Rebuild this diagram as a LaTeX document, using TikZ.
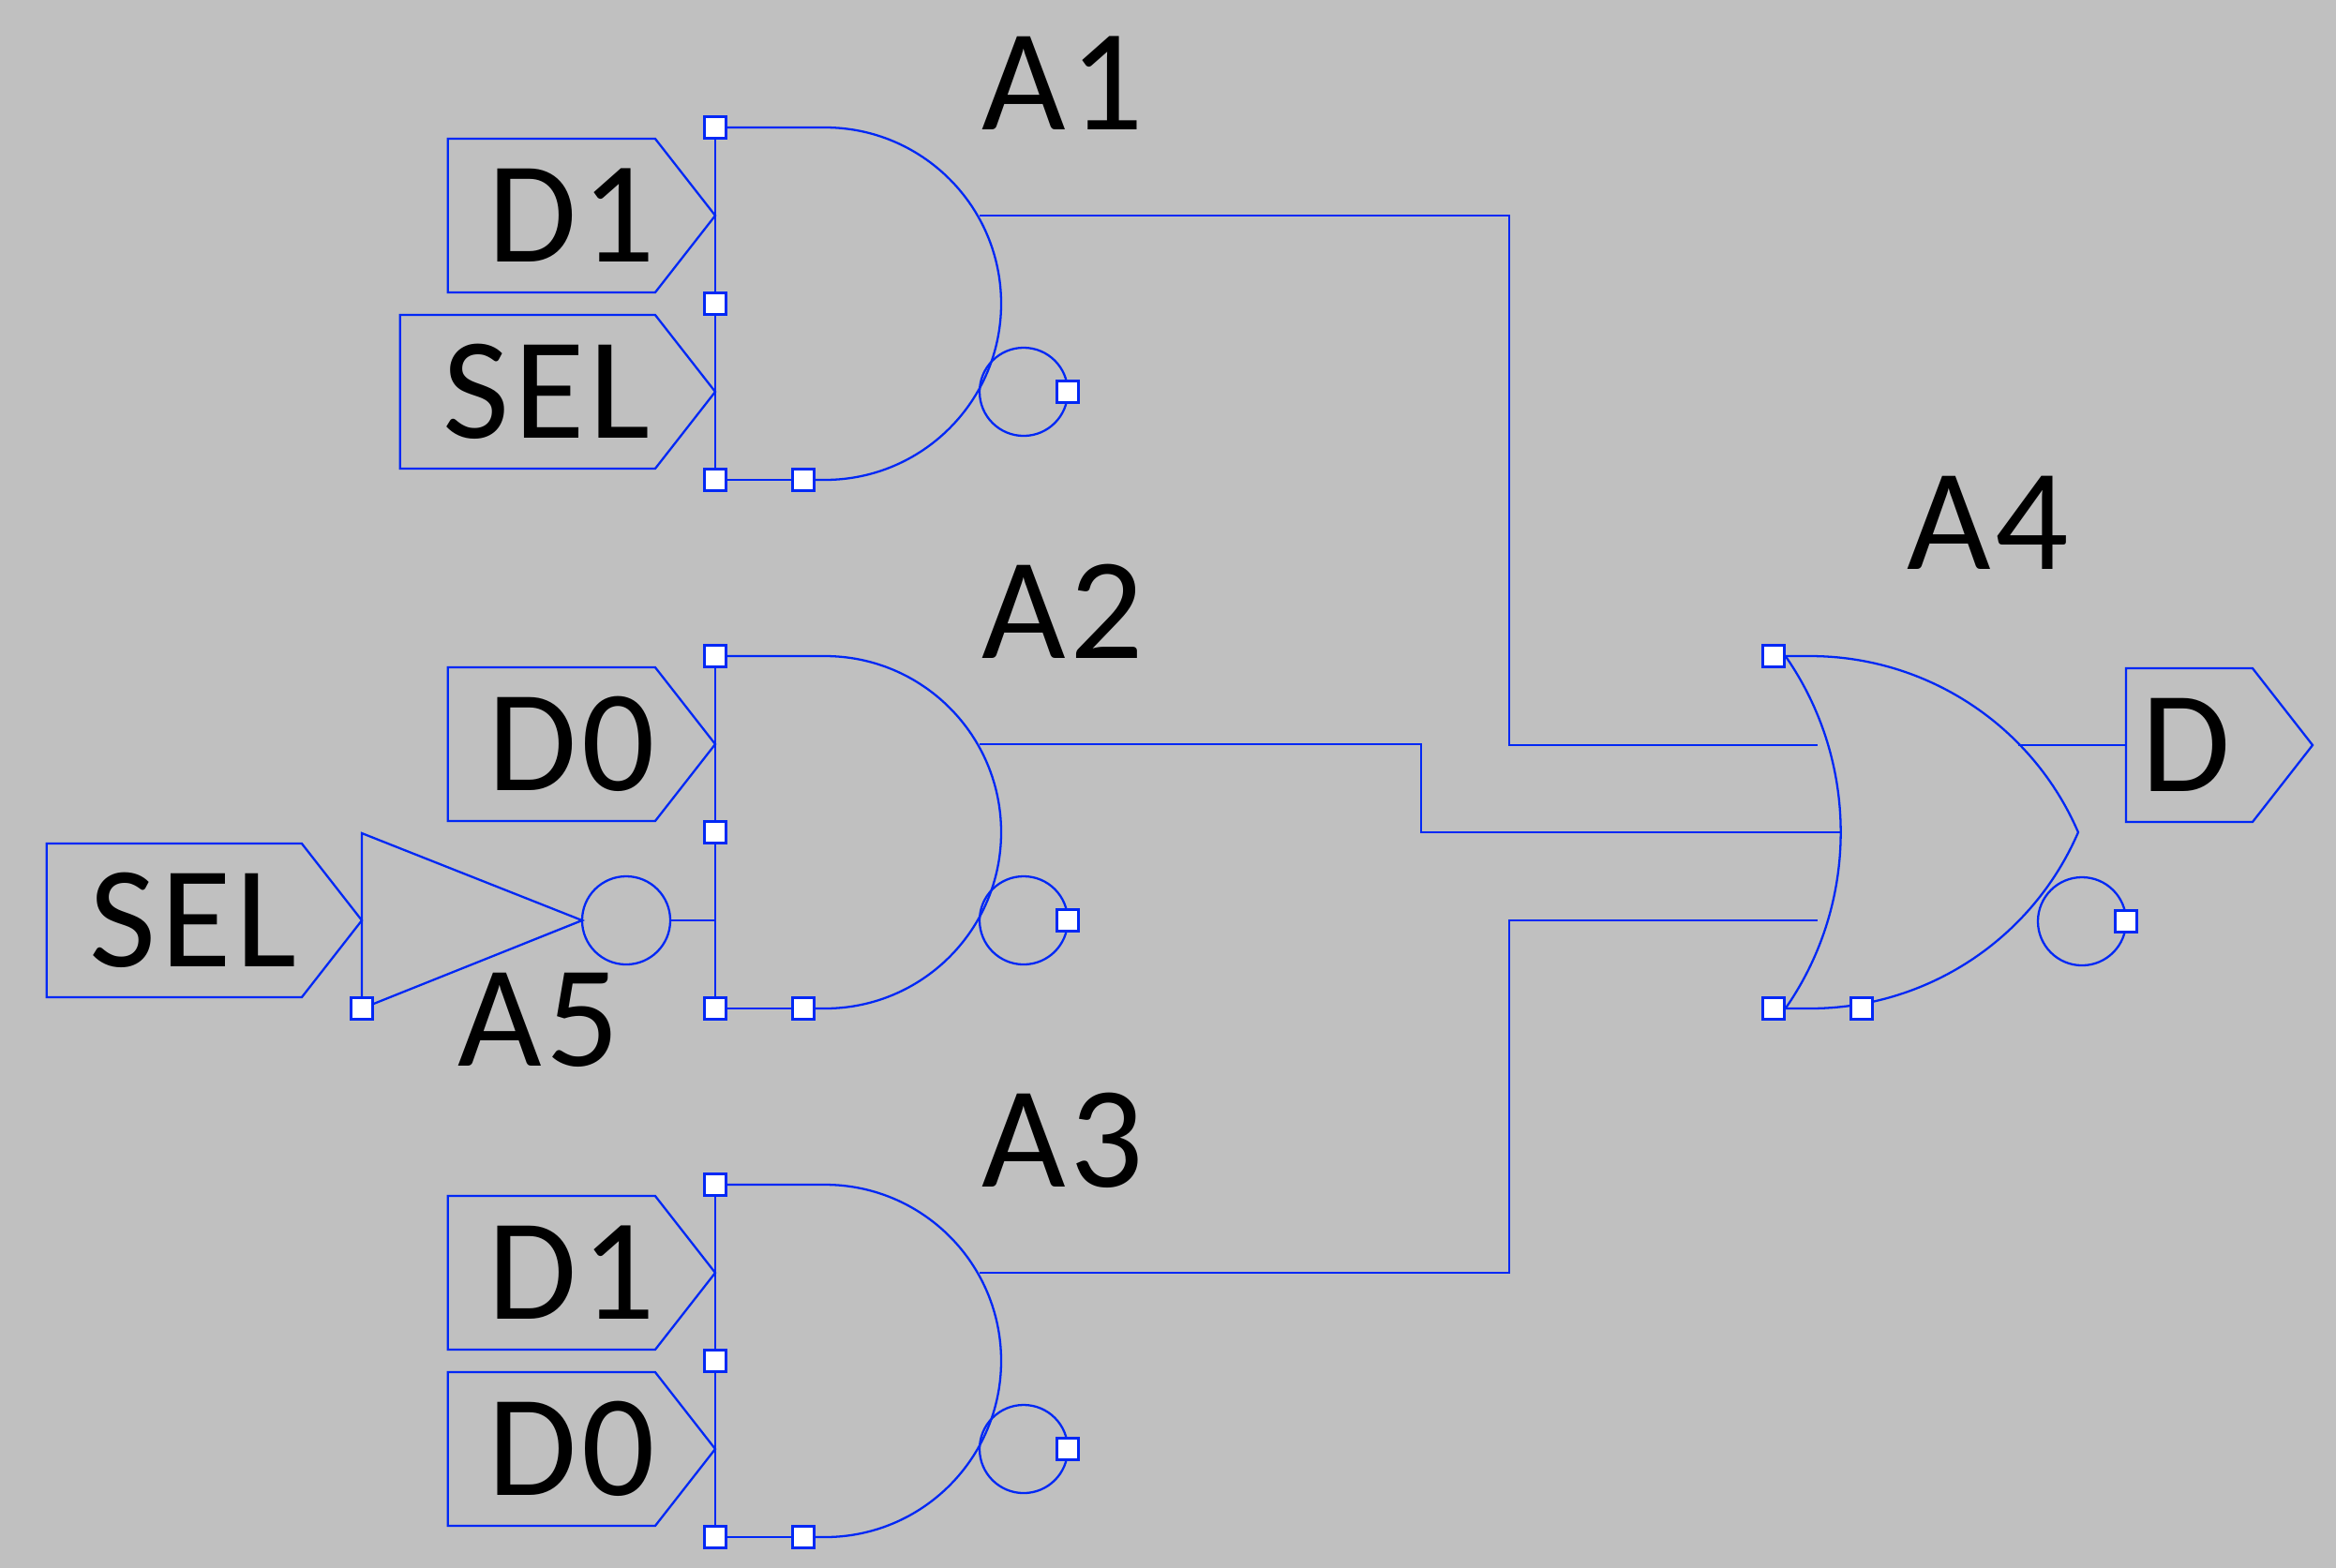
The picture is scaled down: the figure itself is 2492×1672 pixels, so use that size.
\documentclass[tikz,border=0pt]{standalone}
\usepackage{fontspec}
\setmainfont{Carlito}[LetterSpace=3]
\usetikzlibrary{shapes.symbols}
\definecolor{netblue}{RGB}{0,40,245}
\definecolor{sheet}{RGB}{192,192,192}
\tikzset{
    wire/.style={draw=netblue, line width=0.65pt},
    pin/.style={wire, fill=white, rectangle, minimum size=0.23cm, inner sep=0pt},
    bubble/.style={wire, circle, minimum size=0.94cm, inner sep=0pt},
    port/.style={wire, signal, signal to=east, signal pointer angle=104, anchor=east,
        minimum height=1.64cm, inner sep=0pt, outer sep=0pt, font=\fontsize{44}{50}\selectfont},
    gatename/.style={anchor=base west, inner sep=0pt, font=\fontsize{44}{50}\selectfont}
}
\begin{document}
\begin{tikzpicture}[x=0.01cm, y=-0.01cm]
    \useasboundingbox (0, -1) rectangle (2492, 1671);
    \fill[sheet] (-5, -5) rectangle (2497, 1676);

    % the three gates on the left
    \foreach \n/\y in {1/135, 2/699, 3/1263} {
        \node[pin] (a\n-top) at (763, \y) {};
        \node[pin] (a\n-mid) at (763, \y+188) {};
        \node[pin] (a\n-low) at (763, \y+376) {};
        \node[pin] (a\n-inv) at (857, \y+376) {};
        \draw[wire] (a\n-top) -- (a\n-mid) -- (a\n-low) -- (a\n-inv);
        \draw[wire] (a\n-top) -- (880, \y) arc[start angle=-90, end angle=90, radius=188] -- (a\n-inv);
        \node[bubble] (a\n-neg) at (1092, \y+282) {};
        \node[pin] (a\n-out) at (1139, \y+282) {};
        \coordinate (a\n-y) at (1045, \y+94);
        \node[gatename] (a\n-name) at (1047, \y+2) {A\n};
    }

    % inputs
    \node[port, minimum width=2.85cm] (d1a) at (763, 229) {\hspace{0.42cm}D1\hspace{-0.2cm}};
    \node[port, minimum width=3.36cm] (sela) at (763, 417) {\hspace{0.4cm}SEL};
    \node[port, minimum width=2.85cm] (d0a) at (763, 793) {\hspace{0.42cm}D0\hspace{-0.2cm}};
    \node[port, minimum width=2.85cm] (d1b) at (763, 1357) {\hspace{0.42cm}D1\hspace{-0.2cm}};
    \node[port, minimum width=2.85cm] (d0b) at (763, 1545) {\hspace{0.42cm}D0\hspace{-0.2cm}};
    \node[port, minimum width=3.36cm] (selb) at (386, 981) {\hspace{0.4cm}SEL};

    % inverter
    \node[pin] (a5-low) at (386, 1075) {};
    \node[bubble] (a5-neg) at (668, 981) {};
    \coordinate (a2-in) at (763, 981);
    \draw[wire] (a5-low) -- (386, 888) -- (621, 981) -- (a5-low);
    \draw[wire] (a5-neg) -- (a2-in);
    \node[gatename] (a5-name) at (488, 1136) {A5};

    % output gate
    \node[pin] (a4-top) at (1892, 699) {};
    \node[pin] (a4-low) at (1892, 1075) {};
    \draw[wire] (a4-top.east) arc[start angle=-34.85, end angle=34.85, radius=329];
    \draw[wire] (a4-top.east) -- (1931, 699) arc[start angle=-90, end angle=-23.36, radius=311.5]
        arc[start angle=23.36, end angle=90, radius=311.5] -- (a4-low.east);
    \node[pin] (a4-inv) at (1986, 1075) {};
    \node[bubble] (a4-neg) at (2221, 982) {};
    \node[pin] (a4-out) at (2268, 982) {};
    \node[gatename] (a4-name) at (2034, 606) {A4};
    \coordinate (a4-y) at (2153, 794);
    \coordinate (a4-ia) at (1939, 794);
    \coordinate (a4-ib) at (1963, 887);
    \coordinate (a4-ic) at (1939, 981);
    \node[port, minimum width=1.99cm] (dout) at (2467, 794) {\hspace{-0.06cm}D};

    % nets
    \draw[wire] (a4-y) -- (dout.west);
    \draw[wire] (a1-y) -- (1610, 229) |- (a4-ia);
    \draw[wire] (a2-y) -- (1516, 793) |- (a4-ib);
    \draw[wire] (a3-y) -- (1610, 1357) |- (a4-ic);
\end{tikzpicture}
\end{document}
